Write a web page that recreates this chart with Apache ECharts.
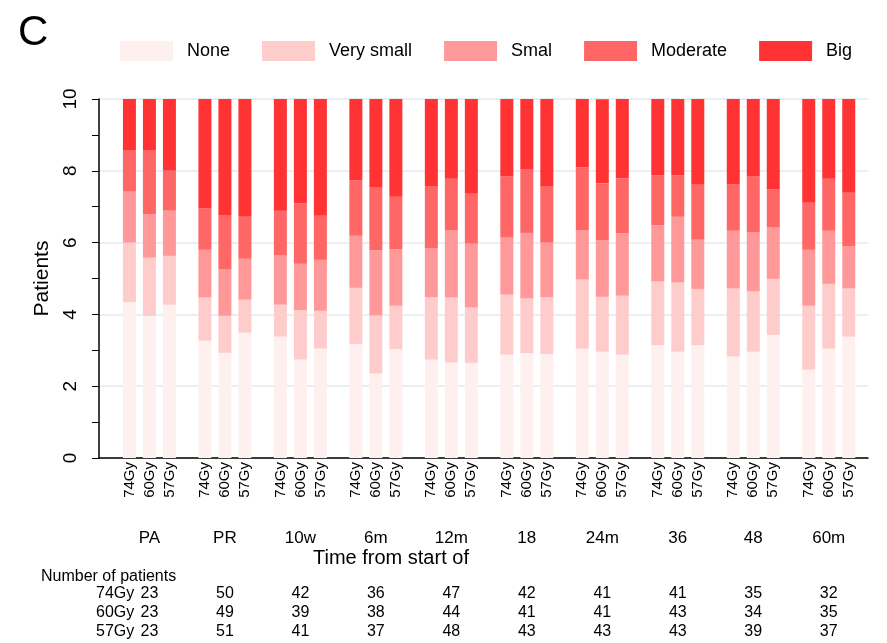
<!DOCTYPE html>
<html>
<head>
<meta charset="utf-8">
<script src="https://cdn.jsdelivr.net/npm/echarts@6/dist/echarts.min.js"></script>
<style>
  html, body { margin: 0; padding: 0; background: #fff; }
  #chart { width: 887px; height: 643px; }
</style>
</head>
<body>
<div id="chart"></div>
<script>
const timepoints = ["PA", "PR", "10w", "6m", "12m", "18", "24m", "36", "48", "60m"];
const doses = ["74Gy", "60Gy", "57Gy"];
const severities = ["None", "Very small", "Smal", "Moderate", "Big"];
const colors = ["#fff0f0", "#ffcccc", "#ff9999", "#ff6666", "#ff3333"];

// 30 bars: for each time point 74Gy, 60Gy, 57Gy
const none      = [4.34, 3.96, 4.27, 3.27, 2.93, 3.49, 3.38, 2.74, 3.05, 3.17, 2.35, 3.03, 2.74, 2.66, 2.65,
                   2.88, 2.92, 2.90, 3.04, 2.96, 2.88, 3.14, 2.96, 3.14, 2.83, 2.96, 3.43, 2.46, 3.04, 3.38];
const verySmall = [1.66, 1.62, 1.36, 1.20, 1.03, 0.92, 0.89, 1.38, 1.05, 1.57, 1.62, 1.21, 1.74, 1.81, 1.54,
                   1.67, 1.52, 1.58, 1.93, 1.53, 1.64, 1.78, 1.93, 1.57, 1.89, 1.68, 1.56, 1.78, 1.81, 1.34];
const smal      = [1.42, 1.21, 1.26, 1.33, 1.29, 1.14, 1.37, 1.29, 1.42, 1.45, 1.82, 1.58, 1.37, 1.88, 1.78,
                   1.59, 1.83, 1.52, 1.38, 1.57, 1.74, 1.56, 1.83, 1.37, 1.61, 1.64, 1.43, 1.56, 1.48, 1.17];
const moderate  = [1.14, 1.77, 1.11, 1.15, 1.52, 1.17, 1.25, 1.69, 1.23, 1.54, 1.76, 1.46, 1.73, 1.43, 1.39,
                   1.70, 1.78, 1.58, 1.74, 1.59, 1.53, 1.40, 1.16, 1.53, 1.29, 1.57, 1.07, 1.31, 1.45, 1.50];
const big       = [1.44, 1.44, 2.00, 3.05, 3.23, 3.28, 3.11, 2.90, 3.25, 2.27, 2.45, 2.72, 2.42, 2.22, 2.64,
                   2.16, 1.95, 2.42, 1.91, 2.34, 2.21, 2.12, 2.12, 2.39, 2.38, 2.15, 2.51, 2.89, 2.22, 2.61];
const seriesValues = [none, verySmall, smal, moderate, big];

// number of patients table
const n74 = [23, 50, 42, 36, 47, 42, 41, 41, 35, 32];
const n60 = [23, 49, 39, 38, 44, 41, 41, 43, 34, 35];
const n57 = [23, 51, 41, 37, 48, 43, 43, 43, 39, 37];

const FONT = "'Liberation Sans', Arial, sans-serif";

// frame grid (axes) and bar grid (category bands) share the same scale
const W = 887, FRAME_L = 99, FRAME_R = 19;
const X_MIN = -0.668, X_MAX = 9.52;
const unit = (W - FRAME_L - FRAME_R) / (X_MAX - X_MIN);
const barLeft = FRAME_L + (-0.5 - X_MIN) * unit;
const barRight = W - (FRAME_L + (timepoints.length - 0.5 - X_MIN) * unit);
const BAR_W = 13, BAR_STEP = 20;
const doseOffset = [-BAR_STEP / unit, 0, BAR_STEP / unit];
const positions = [];
timepoints.forEach((t, g) => doseOffset.forEach(o => positions.push(g + o)));

const chart = echarts.init(document.getElementById("chart"));

const series = [];
doses.forEach((dose, d) => {
  severities.forEach((name, s) => {
    series.push({
      name: name,
      type: "bar",
      stack: dose,
      xAxisIndex: 2,
      yAxisIndex: 1,
      barWidth: BAR_W,
      barGap: ((BAR_STEP - BAR_W) / BAR_W * 100) + "%",
      itemStyle: { color: colors[s] },
      emphasis: { disabled: true },
      data: seriesValues[s].filter((v, i) => i % 3 === d)
    });
  });
});

chart.setOption({
  animation: false,
  textStyle: { fontFamily: FONT },
  legend: {
    data: severities,
    left: 120,
    top: 41,
    padding: 0,
    itemWidth: 53,
    itemHeight: 20,
    itemGap: 32,
    icon: "rect",
    selectedMode: false,
    textStyle: { fontSize: 18, color: "#000", padding: [0, 0, 0, 9], fontFamily: FONT }
  },
  grid: [
    { left: FRAME_L, right: FRAME_R, top: 99, bottom: 185, outerBoundsMode: "none" },
    { left: barLeft, right: barRight, top: 99, bottom: 185, outerBoundsMode: "none" }
  ],
  xAxis: [
    {
      type: "value",
      gridIndex: 0,
      min: X_MIN,
      max: X_MAX,
      splitLine: { show: false },
      axisTick: { show: false },
      axisLine: { show: true, onZero: false, lineStyle: { color: "#000", width: 1.5 } },
      axisLabel: {
        customValues: positions,
        rotate: 90,
        margin: 4,
        fontSize: 15,
        color: "#000",
        fontFamily: FONT,
        formatter: v => {
          const i = positions.findIndex(p => Math.abs(p - v) < 1e-6);
          return i < 0 ? "" : doses[i % 3];
        }
      }
    },
    {
      type: "value",
      gridIndex: 0,
      position: "bottom",
      offset: 62,
      min: X_MIN,
      max: X_MAX,
      splitLine: { show: false },
      axisTick: { show: false },
      axisLine: { show: false },
      axisLabel: {
        customValues: timepoints.map((t, g) => g),
        margin: 10,
        fontSize: 17,
        color: "#000",
        fontFamily: FONT,
        formatter: v => timepoints[Math.round(v)] || ""
      }
    },
    {
      type: "category",
      gridIndex: 1,
      data: timepoints,
      show: false
    }
  ],
  yAxis: [
    {
      type: "value",
      gridIndex: 0,
      min: 0,
      max: 10,
      interval: 2,
      name: "Patients",
      nameLocation: "middle",
      nameRotate: 90,
      nameGap: 28,
      nameTextStyle: { fontSize: 21, color: "#000", fontFamily: FONT },
      axisLine: { show: true, onZero: false, lineStyle: { color: "#000", width: 1.5 } },
      axisTick: { show: true, length: 7, lineStyle: { color: "#000" } },
      minorTick: { show: true, splitNumber: 2, length: 7, lineStyle: { color: "#000" } },
      splitLine: { show: true, lineStyle: { color: "#e2eaee", width: 1.5 } },
      axisLabel: { rotate: 90, margin: 19, fontSize: 19, color: "#000", fontFamily: FONT }
    },
    {
      type: "value",
      gridIndex: 1,
      min: 0,
      max: 10,
      show: false,
      splitLine: { show: false }
    }
  ],
  series: series
});

// panel letter, axis title and the patient count table
const graphics = [
  { type: "text", left: 18, top: 12, style: { text: "C", fontSize: 42, fill: "#000", fontFamily: FONT } },
  { type: "text", x: 313, y: 558, style: { text: "Time from start of", fontSize: 20, fill: "#000", fontFamily: FONT, textVerticalAlign: "middle" } },
  { type: "text", x: 41, y: 577, style: { text: "Number of patients", fontSize: 16, fill: "#000", fontFamily: FONT, textVerticalAlign: "middle" } }
];
const rows = [[doses[0], n74, 594], [doses[1], n60, 613], [doses[2], n57, 632]];
rows.forEach(([label, counts, y]) => {
  graphics.push({ type: "text", x: 96, y: y, style: { text: label, fontSize: 16, fill: "#000", fontFamily: FONT, textVerticalAlign: "middle" } });
  counts.forEach((c, g) => {
    const x = chart.convertToPixel({ xAxisIndex: 0 }, g);
    graphics.push({ type: "text", x: x, y: y, style: { text: String(c), fontSize: 16, fill: "#000", fontFamily: FONT, textAlign: "center", textVerticalAlign: "middle" } });
  });
});
chart.setOption({ graphic: graphics });
</script>
</body>
</html>
